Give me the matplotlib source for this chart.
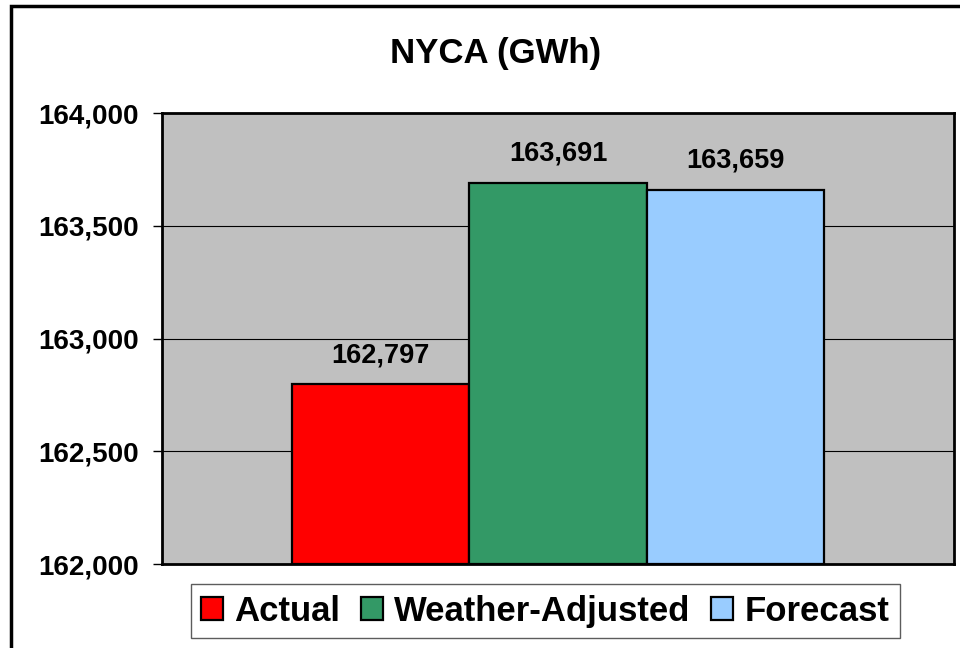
import matplotlib.pyplot as plt
from matplotlib.patches import Rectangle
from matplotlib.ticker import FuncFormatter

series = ["Actual", "Weather-Adjusted", "Forecast"]
values = [162797, 163691, 163659]
colors = ["#FF0000", "#339966", "#99CCFF"]
yticks = [162000, 162500, 163000, 163500, 164000]

plt.rcParams["font.family"] = ["Liberation Sans", "DejaVu Sans"]
plt.rcParams["font.weight"] = "bold"

fig = plt.figure(figsize=(9.6, 6.48), dpi=100)
ax = fig.add_axes([0.16875, 0.1296, 0.825, 0.696])
ax.set_facecolor("#C0C0C0")

x = list(range(len(series)))
bars = ax.bar(x, [v - yticks[0] for v in values], bottom=yticks[0], width=1.0,
              color=colors, edgecolor="black", linewidth=1.6, label=series, zorder=3)
ax.set_xlim(-1.236, 3.236)
ax.set_ylim(yticks[0], yticks[-1])
ax.set_yticks(yticks)
ax.yaxis.set_major_formatter(FuncFormatter(lambda v, p: f"{int(v):,}"))
ax.set_xticks([])
ax.tick_params(axis="y", direction="out", length=6.5, width=1, labelsize=20, pad=10.5)
ax.grid(axis="y", color="black", linewidth=0.8, zorder=1)
for s in ax.spines.values():
    s.set_linewidth(2)
    s.set_color("black")

for xi, v in zip(x, values):
    ax.annotate(f"{v:,}", (xi, v), xytext=(0, 21), textcoords="offset points",
                ha="center", va="center", fontsize=19.5, fontweight="bold")

fig.text(0.516, 0.918, "NYCA (GWh)", ha="center", va="center", fontsize=25, fontweight="bold")

leg = fig.legend(handles=bars, labels=series, loc="center", bbox_to_anchor=(0.568, 0.057),
                 ncol=3, frameon=True, fancybox=False, handlelength=0.63,
                 handleheight=0.63, handletextpad=0.32, columnspacing=0.6, borderpad=0.3,
                 prop={"weight": "bold", "size": 25})
leg.get_frame().set_edgecolor("#333333")
leg.get_frame().set_linewidth(1)

fig.add_artist(Rectangle((0.0115, -0.02), 1.0, 1.0107, transform=fig.transFigure,
                         fill=False, edgecolor="black", linewidth=2.5, clip_on=False))

fig.savefig("out.png", dpi=100)
